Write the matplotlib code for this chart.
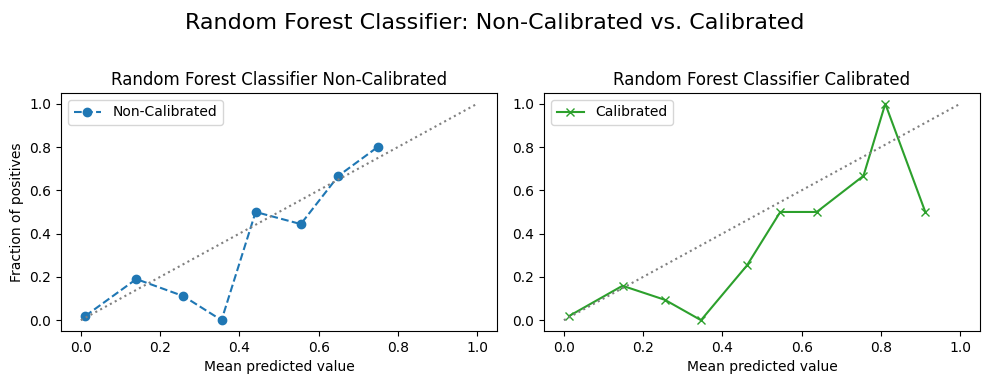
import matplotlib.pyplot as plt

# calibration curve points
nc_pred = [0.011, 0.140, 0.259, 0.355, 0.441, 0.555, 0.650, 0.749]
nc_frac = [0.019, 0.190, 0.111, 0.000, 0.500, 0.444, 0.667, 0.800]

cal_pred = [0.013, 0.148, 0.255, 0.346, 0.462, 0.546, 0.638, 0.756, 0.811, 0.912]
cal_frac = [0.019, 0.159, 0.094, 0.000, 0.253, 0.500, 0.500, 0.667, 1.000, 0.500]

fig, (ax1, ax2) = plt.subplots(1, 2, figsize=(9.89, 3.84))

ax1.plot(nc_pred, nc_frac, marker='o', linestyle='--', color='tab:blue', label='Non-Calibrated')
ax1.plot([0, 1], [0, 1], linestyle=':', color='gray')
ax1.set_title('Random Forest Classifier Non-Calibrated')
ax1.set_xlabel('Mean predicted value')
ax1.set_ylabel('Fraction of positives')
ax1.legend(loc='upper left')

ax2.plot(cal_pred, cal_frac, marker='x', linestyle='-', color='tab:green', label='Calibrated')
ax2.plot([0, 1], [0, 1], linestyle=':', color='gray')
ax2.set_title('Random Forest Classifier Calibrated')
ax2.set_xlabel('Mean predicted value')
ax2.legend(loc='upper left')

fig.suptitle('Random Forest Classifier: Non-Calibrated vs. Calibrated', fontsize=16, y=0.965)
fig.subplots_adjust(left=0.0617, right=0.9909, top=0.758, bottom=0.138, wspace=0.108)

plt.savefig('out.png', dpi=100)
